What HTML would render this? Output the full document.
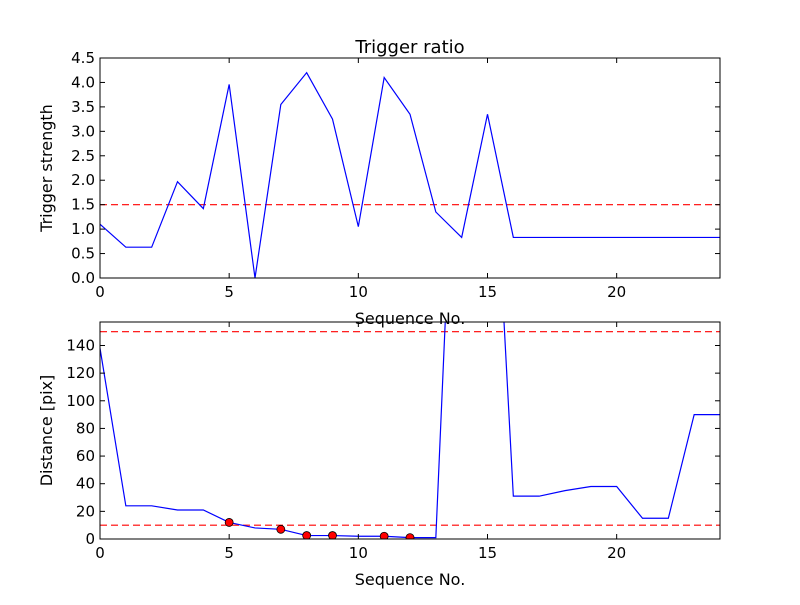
<!DOCTYPE html>
<html><head><meta charset="utf-8"><style>
body{margin:0;background:#fff}
svg text{font-family:"DejaVu Sans","Liberation Sans",sans-serif;fill:#000}
</style></head><body>
<svg id="c" width="800" height="600" xmlns="http://www.w3.org/2000/svg">
<rect width="800" height="600" fill="#fff"/>
<text x="410" y="53" font-size="18" text-anchor="middle">Trigger ratio</text>
</svg>
<script>
const seq = [0,1,2,3,4,5,6,7,8,9,10,11,12,13,14,15,16,17,18,19,20,21,22,23,24];
const strength = [1.1,0.63,0.63,1.97,1.42,3.96,0,3.55,4.2,3.25,1.05,4.1,3.35,1.35,0.83,3.35,0.83,0.83,0.83,0.83,0.83,0.83,0.83,0.83,0.83];
const strengthThreshold = [1.5];
const distance = [138,24,24,21,21,12,8,7,2.5,2.5,2,2,1,1,430,380,31,31,35,38,38,15,15,90,90];
const markerIdx = [5,7,8,9,11,12];
const distThresholds = [10,150];
const topYTicks = [0,0.5,1,1.5,2,2.5,3,3.5,4,4.5];
const botYTicks = [0,20,40,60,80,100,120,140];
const xTicks = [0,5,10,15,20];

const svg = document.getElementById('c');
const NS = 'http://www.w3.org/2000/svg';
function mk(tag, attrs, parent){const e=document.createElementNS(NS,tag);for(const k in attrs)e.setAttribute(k,attrs[k]);(parent||svg).appendChild(e);return e;}

function panel(name, top, bottom, ymax, yTicks, ylabel, xlabelY){
  const L=100,R=720;
  const sx=v=>L+(v/24)*(R-L);
  const sy=v=>bottom-(v/ymax)*(bottom-top);
  const g=mk('g',{});
  
  
  const clipId=name+'-clip';
  const cp=mk('clipPath',{id:clipId},g);
  mk('rect',{x:L,y:top,width:R-L,height:bottom-top},cp);
  const plot=mk('g',{'clip-path':'url(#'+clipId+')'},g);
  return {L,R,top,bottom,sx,sy,g,plot,yTicks,ylabel,xlabelY};
}
function axes(p){
  const {L,R,top,bottom,sx,sy,g}=p;
  const fr=mk('rect',{x:L,y:top,width:R-L,height:bottom-top,fill:'none',stroke:'#000','stroke-width':1},g);
  
  
  xTicks.forEach(t=>{
    const x=sx(t);
    mk('line',{x1:x,x2:x,y1:bottom,y2:bottom-5,stroke:'#000'},g);
    mk('line',{x1:x,x2:x,y1:top,y2:top+5,stroke:'#000'},g);
    const tx=mk('text',{x:x,y:bottom+19,'font-size':15,'text-anchor':'middle'},g);
    tx.textContent=t;
    
    
  });
  p.yTicks.forEach(t=>{
    const y=sy(t);
    mk('line',{x1:L,x2:L+5,y1:y,y2:y,stroke:'#000'},g);
    mk('line',{x1:R,x2:R-5,y1:y,y2:y,stroke:'#000'},g);
    const tx=mk('text',{x:L-5,y:y+5,'font-size':15,'text-anchor':'end'},g);
    tx.textContent=(p.yTicks[1]<1)?t.toFixed(1):t;
    
    
  });
  const xl=mk('text',{x:410,y:p.xlabelY,'font-size':16,'text-anchor':'middle'},g);
  xl.textContent='Sequence No.';
  
  
  const cy=(top+bottom)/2;
  const yl=mk('text',{x:0,y:0,'font-size':16,'text-anchor':'middle',transform:'translate(52,'+cy+') rotate(-90)'},g);
  yl.textContent=p.ylabel;
  
  
}
function hline(p,v){
  const l=mk('line',{x1:p.L,x2:p.R,y1:p.sy(v),y2:p.sy(v),stroke:'#ff0000','stroke-width':1.2,'stroke-dasharray':'7,4'},p.plot);
  
  
}
function series(p,vals){
  const d=vals.map((v,i)=>(i?'L':'M')+p.sx(seq[i]).toFixed(2)+','+p.sy(v).toFixed(2)).join(' ');
  const pa=mk('path',{d:d,fill:'none',stroke:'#0000ff','stroke-width':1.2},p.plot);
  
  
}

const p1=panel('top-panel',58,278,4.5,topYTicks,'Trigger strength',324);
strengthThreshold.forEach(v=>hline(p1,v));
series(p1,strength);
axes(p1);

const p2=panel('bottom-panel',322,539,157,botYTicks,'Distance [pix]',585);
distThresholds.forEach(v=>hline(p2,v));
series(p2,distance);
markerIdx.forEach(i=>{
  const c=mk('circle',{cx:p2.sx(seq[i]),cy:p2.sy(distance[i]),r:4,fill:'#ff0000',stroke:'#000','stroke-width':0.8},p2.plot);
  
  
});
axes(p2);
</script>
</body></html>
